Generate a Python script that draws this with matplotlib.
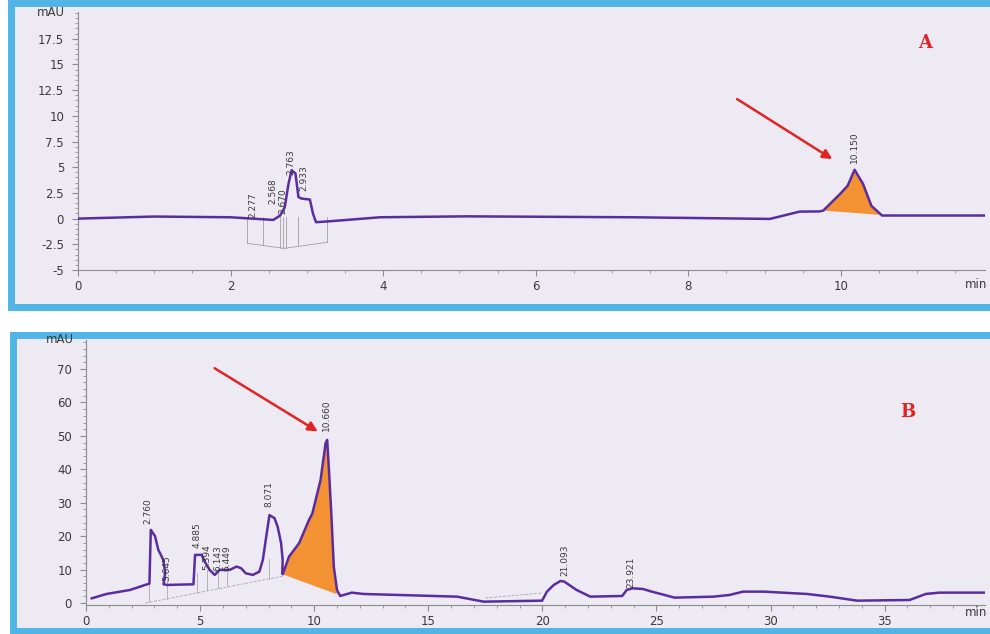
import matplotlib.pyplot as plt
from matplotlib.patches import Rectangle, Polygon
from matplotlib.ticker import MultipleLocator

# ---- panel A trace (min, mAU) ----
a_time = [0.0, 1.0, 2.0, 2.56, 2.65, 2.71, 2.76, 2.80, 2.85, 2.89, 2.93, 3.04, 3.08,
          3.12, 3.30, 3.96, 5.09, 7.28, 9.07, 9.46, 9.72, 9.77, 9.99, 10.09, 10.18,
          10.29, 10.40, 10.54, 11.9]
a_mau = [0.0, 0.2, 0.13, -0.13, 0.3, 1.1, 3.4, 4.7, 4.4, 2.1, 1.95, 1.85, 0.5,
         -0.35, -0.26, 0.13, 0.22, 0.13, -0.03, 0.68, 0.7, 0.78, 2.4, 3.2, 4.75,
         3.4, 1.25, 0.3, 0.3]
a_peak_time = [9.77, 9.99, 10.09, 10.18, 10.29, 10.40, 10.54]
a_peak_mau = [0.78, 2.4, 3.2, 4.75, 3.4, 1.25, 0.35]
a_labels = ["2.277", "2.568", "2.670", "2.763", "2.933", "10.150"]
a_label_x = [2.29, 2.55, 2.68, 2.79, 2.96, 10.18]
a_label_y = [0.1, 1.4, 0.4, 4.2, 2.7, 5.4]

# ---- panel B trace ----
b_time = [0.25, 0.9, 1.93, 2.59, 2.78, 2.84, 3.03, 3.17, 3.39, 3.47, 3.40, 3.55,
          4.71, 4.78, 5.07, 5.20, 5.42, 5.64, 5.86, 6.30, 6.60, 6.80, 7.00, 7.31,
          7.60, 7.75, 7.90, 8.04, 8.26, 8.40, 8.55, 8.62, 8.60, 8.62, 8.90, 9.34,
          9.77, 9.92, 10.28, 10.50, 10.57, 10.64, 10.75, 10.86, 11.00, 11.14, 11.65,
          12.16, 16.26, 17.43, 19.99, 20.20, 20.50, 20.80, 20.96, 21.50, 22.10,
          23.50, 23.70, 23.95, 24.40, 24.80, 25.80, 27.50, 28.20, 28.80, 29.70,
          31.60, 32.60, 33.80, 36.10, 36.80, 37.40, 39.6]
b_mau = [1.4, 2.7, 3.9, 5.4, 5.8, 21.9, 19.9, 15.9, 12.9, 9.0, 5.6, 5.4,
         5.6, 14.4, 14.4, 12.4, 9.9, 8.4, 9.9, 9.9, 10.9, 10.4, 8.9, 8.4,
         9.4, 12.9, 19.9, 26.3, 25.4, 22.8, 17.9, 12.9, 8.9, 8.6, 13.9, 17.9,
         24.8, 26.8, 36.8, 47.8, 48.8, 40.8, 26.9, 10.9, 3.9, 2.1, 3.1,
         2.7, 1.9, 0.4, 0.7, 3.4, 5.4, 6.6, 6.4, 3.9, 1.9,
         2.1, 3.9, 4.4, 4.2, 3.4, 1.6, 1.9, 2.4, 3.4, 3.4,
         2.7, 1.9, 0.7, 0.9, 2.7, 3.1, 3.1]
b_peak_time = [8.62, 8.90, 9.34, 9.77, 9.92, 10.28, 10.50, 10.57, 10.64, 10.75, 10.86, 11.00]
b_peak_mau = [8.6, 13.9, 17.9, 24.8, 26.8, 36.8, 47.8, 48.8, 40.8, 26.9, 10.9, 2.6]
b_labels = ["2.760", "3.645", "4.885", "5.394", "6.143", "6.449", "8.071", "10.660",
            "21.093", "23.921"]
b_label_x = [2.73, 3.54, 4.85, 5.29, 5.80, 6.17, 8.00, 10.52, 21.0, 23.86]
b_label_y = [23.5, 6.5, 16.5, 9.8, 9.5, 9.5, 28.8, 51.5, 8.2, 4.6]

purple = "#5B2CA0"
orange = "#F39232"
blue = "#4FB4E6"
bg = "#EEEAF3"
grey = "#8C8C8C"
txt = "#3A3A3A"

fig = plt.figure(figsize=(9.9, 6.34), dpi=100)
W, H = 990, 634


def frame(x0, y0, x1, y1):
    # light blue scanned border, pixel coords from the top left
    fig.patches.append(Rectangle((x0 / W, 1 - y1 / H), (x1 - x0) / W, (y1 - y0) / H,
                                 transform=fig.transFigure, facecolor=bg,
                                 edgecolor=blue, linewidth=5, zorder=-5))


frame(11, 3, 996, 307)
frame(13, 335, 996, 631)


def setup(ax, xmax, ylo, yhi, ymajor, yminor, xmajor, xminor, min_y):
    ax.set_facecolor("none")
    ax.set_xlim(0, xmax)
    ax.set_ylim(ylo, yhi)
    for s in ["top", "right"]:
        ax.spines[s].set_visible(False)
    for s in ["left", "bottom"]:
        ax.spines[s].set_color(grey)
        ax.spines[s].set_linewidth(0.8)
    ax.yaxis.set_major_locator(MultipleLocator(ymajor))
    ax.yaxis.set_minor_locator(MultipleLocator(yminor))
    ax.xaxis.set_major_locator(MultipleLocator(xmajor))
    ax.xaxis.set_minor_locator(MultipleLocator(xminor))
    ax.tick_params(which="both", colors=grey, labelcolor=txt, labelsize=8.5)
    ax.tick_params(which="major", length=4)
    ax.tick_params(which="minor", length=2)
    ax.tick_params(axis="y", pad=6)
    ax.text(-0.014, 1.0, "mAU", transform=ax.transAxes, ha="right", va="center",
            fontsize=8.5, color=txt)
    fig.text(987 / W, 1 - min_y / H, "min", ha="right", va="center",
             fontsize=8.5, color=txt)


# ---- panel A ----
axA = fig.add_axes([78 / W, 1 - 270 / H, 907 / W, 258 / H])
setup(axA, 11.89, -5, 20.1, 2.5, 0.5, 2, 0.5, 284)
axA.set_yticks([-5, -2.5, 0, 2.5, 5, 7.5, 10, 12.5, 15, 17.5])
axA.set_yticklabels(["-5", "-2.5", "0", "2.5", "5", "7.5", "10", "12.5", "15", "17.5"])
axA.set_xticks([0, 2, 4, 6, 8, 10])

# integration marks
for xv, yb in zip([2.22, 2.42, 2.65, 2.69, 2.73, 2.89, 3.27], [-2.4, -2.6, -2.85, -2.9, -2.9, -2.7, -2.3]):
    axA.plot([xv, xv], [yb, 0.2], color="#A0A0A0", lw=0.6)
axA.plot([2.22, 2.70, 3.27], [-2.4, -2.9, -2.3], color="#A0A0A0", lw=0.6)

axA.add_patch(Polygon(list(zip(a_peak_time, a_peak_mau)), closed=True, facecolor=orange,
                      edgecolor="none", zorder=2))
axA.plot(a_time, a_mau, color=purple, lw=1.8, zorder=3)
for lab, xv, yv in zip(a_labels, a_label_x, a_label_y):
    axA.text(xv, yv, lab, rotation=90, ha="center", va="bottom", fontsize=6.5,
             color=txt, zorder=4)
axA.annotate("", xy=(9.92, 5.64), xytext=(8.61, 11.77),
             arrowprops=dict(arrowstyle="-|>", color="#E02424", lw=1.8, mutation_scale=14))
fig.text(925 / W, 1 - 43 / H, "A", color="#E02424", fontsize=13, fontweight="bold",
         family="DejaVu Serif", ha="center", va="center")

# ---- panel B ----
axB = fig.add_axes([86 / W, 1 - 605 / H, 899 / W, 265 / H])
setup(axB, 39.4, -0.6, 78.7, 10, 2, 5, 1, 612)
axB.set_yticks([0, 10, 20, 30, 40, 50, 60, 70])
axB.set_xticks([0, 5, 10, 15, 20, 25, 30, 35])

axB.plot([2.6, 8.6], [0.0, 8.0], color="#A8A8A8", lw=0.6, ls="--")
for xv, yb in zip([2.76, 3.56, 4.85, 5.30, 5.80, 6.17, 8.0], [0.2, 1.2, 3.0, 3.8, 4.5, 5.0, 7.3]):
    axB.plot([xv, xv], [yb, yb + 6], color="#A8A8A8", lw=0.6)
axB.plot([17.5, 20.0], [1.5, 3.0], color="#A8A8A8", lw=0.6, ls="--")

axB.add_patch(Polygon(list(zip(b_peak_time, b_peak_mau)), closed=True, facecolor=orange,
                      edgecolor="none", zorder=2))
axB.plot(b_time, b_mau, color=purple, lw=1.8, zorder=3)
for lab, xv, yv in zip(b_labels, b_label_x, b_label_y):
    axB.text(xv, yv, lab, rotation=90, ha="center", va="bottom", fontsize=6.5,
             color=txt, zorder=4)
axB.annotate("", xy=(10.26, 50.9), xytext=(5.53, 70.7),
             arrowprops=dict(arrowstyle="-|>", color="#E02424", lw=1.8, mutation_scale=14))
fig.text(908 / W, 1 - 412 / H, "B", color="#E02424", fontsize=13, fontweight="bold",
         family="DejaVu Serif", ha="center", va="center")

fig.savefig("out.png", dpi=100, facecolor="white")
